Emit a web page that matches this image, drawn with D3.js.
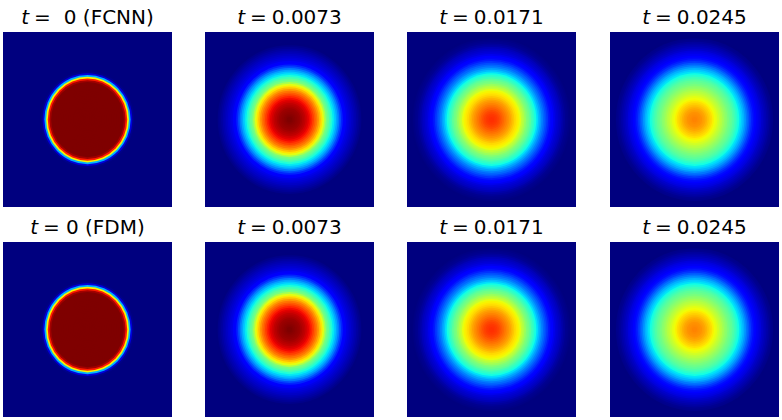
<!DOCTYPE html>
<html><head><meta charset="utf-8">
<style>html,body{margin:0;padding:0;background:#fff}svg{display:block}text{font-family:"DejaVu Sans";fill:#000}</style>
<script src="https://cdn.jsdelivr.net/npm/d3@7"></script></head><body><svg id="c" width="782" height="420"></svg>
<script>
// radial temperature profiles, one value per ring, ring spacing 0.02 in domain units
const ringStep = 0.02;
const profileT0 = [1,1,1,1,1,1,1,1,1,1,1,1,1,1,1,1,1,1,1,1,1,1,.97,.88,.65,.3,.08,.01,0];
const profileT0073 = [1,1,.995,.99,.985,.98,.975,.965,.955,.945,.93,.915,.9,.875,.845,.815,.785,.75,.71,.67,.625,.56,.495,.465,.43,.39,.355,.32,.285,.245,.2,.16,.12,.105,.09,.08,.07,.06,.05,.04,.03,.02,.01,0];
const profileT0171 = [.86,.86,.855,.85,.84,.83,.815,.8,.785,.77,.755,.74,.72,.7,.68,.665,.65,.63,.59,.565,.535,.505,.485,.46,.43,.405,.375,.345,.31,.28,.25,.225,.2,.175,.15,.13,.11,.095,.08,.07,.06,.05,.035,.025,.015,.01,.005,0];
const profileT0245 = [.77,.77,.765,.76,.755,.745,.735,.72,.705,.69,.675,.655,.64,.625,.605,.585,.57,.55,.53,.515,.495,.48,.465,.445,.425,.4,.375,.35,.325,.3,.27,.24,.21,.18,.155,.135,.115,.1,.09,.08,.065,.055,.045,.035,.025,.015,.01,0];
const titlesTop = ["0 (FCNN)","0.0073","0.0171","0.0245"];
const titlesBottom = ["0 (FDM)","0.0073","0.0171","0.0245"];
const titleGapsTop = [13,5,5,5];
const titleGapsBottom = [6,5,5,5];
const columnProfiles = [profileT0, profileT0073, profileT0171, profileT0245];
const columnLeft = [3,205,407,610];
const rowTop = [32,242];
const jetStops = [0,.11,.125,.34,.35,.375,.64,.65,.66,.89,.91,1];
const jetColors = ["#00007f","#0000ff","#0000ff","#00dbff","#00e5f7","#14ffe2","#eeff08","#f7f500","#ffec00","#ff1300","#e80000","#7f0000"];

const jet = d3.scaleLinear().domain(jetStops).range(jetColors).interpolate(d3.interpolateRgb);
const svg = d3.select("#c");
const W = 169, H = 175;
[[titlesTop,titleGapsTop], [titlesBottom,titleGapsBottom]].forEach(([titles,gaps], row) => {
  columnLeft.forEach((left, col) => {
    const top = rowTop[row];
    const x = d3.scaleLinear().domain([-1,1]).range([left, left+W]);
    const y = d3.scaleLinear().domain([-1,1]).range([top+H, top]);
    const g = svg.append("g");
    g.append("rect").attr("x",x(-1)).attr("y",y(1)).attr("width",x(1)-x(-1)).attr("height",y(-1)-y(1)).attr("fill",jet(0));
    const rings = columnProfiles[col].map((v,i)=>({r:i*ringStep,v})).reverse();
    g.selectAll("ellipse").data(rings).join("ellipse")
      .attr("cx",x(0)).attr("cy",y(0))
      .attr("rx",d=>x(d.r+ringStep/2)-x(0))
      .attr("ry",d=>y(0)-y(d.r+ringStep/2))
      .attr("fill",d=>jet(d.v));
    const t = g.append("text").attr("x",x(0)).attr("y",top-8).attr("text-anchor","middle").attr("font-size",20);
    t.append("tspan").attr("font-style","italic").text("t");
    t.append("tspan").attr("dx",5).text("=");
    t.append("tspan").attr("dx",gaps[col]).text(titles[col]);
  });
});
</script></body></html>
